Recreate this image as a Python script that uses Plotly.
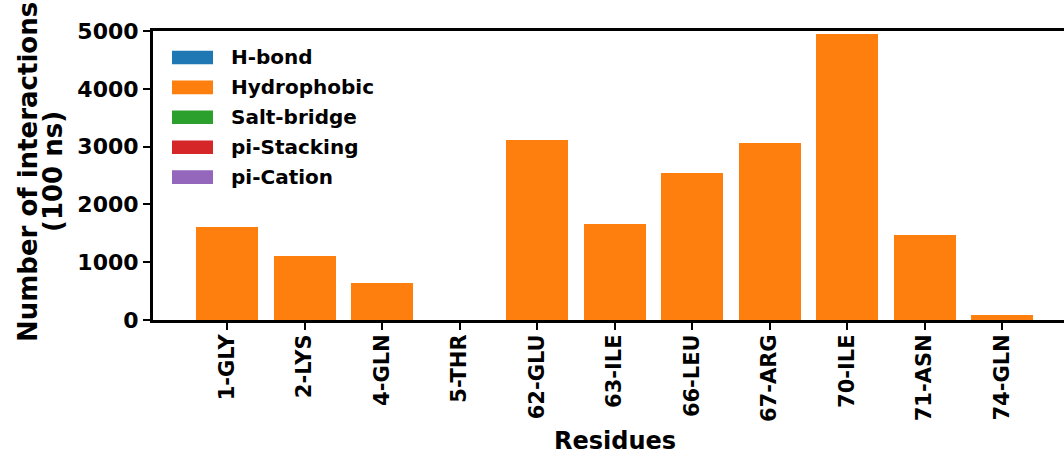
import plotly.graph_objects as go

# Residue-level interaction counts over the 100 ns trajectory
residues = ["1-GLY", "2-LYS", "4-GLN", "5-THR", "62-GLU", "63-ILE",
            "66-LEU", "67-ARG", "70-ILE", "71-ASN", "74-GLN"]
hbond = [0, 0, 0, 0, 0, 0, 0, 0, 0, 0, 0]
hydrophobic = [1610, 1110, 640, 0, 3120, 1660, 2550, 3070, 4940, 1470, 90]
salt_bridge = [0, 0, 0, 0, 0, 0, 0, 0, 0, 0, 0]
pi_stacking = [0, 0, 0, 0, 0, 0, 0, 0, 0, 0, 0]
pi_cation = [0, 0, 0, 0, 0, 0, 0, 0, 0, 0, 0]

series_names = ["H-bond", "Hydrophobic", "Salt-bridge", "pi-Stacking", "pi-Cation"]
series_values = [hbond, hydrophobic, salt_bridge, pi_stacking, pi_cation]
series_colors = ["#1f77b4", "#ff7f0e", "#2ca02c", "#d62728", "#9467bd"]

y_ticks = [0, 1000, 2000, 3000, 4000, 5000]

FONT = "DejaVu Sans"

fig = go.Figure()
for name, vals, col in zip(series_names, series_values, series_colors):
    fig.add_trace(go.Bar(x=residues, y=vals, name=name, marker_color=col,
                         marker_line_width=0, showlegend=False))

# Legend drawn as swatch + label pairs in the upper-left of the axes
W_PLOT, H_PLOT = 911.0, 289.0
for i, (name, col) in enumerate(zip(series_names, series_colors)):
    yc = 57.5 + i * 29.9  # pixel centre from top of figure
    y_paper = (320.0 - yc) / H_PLOT
    half = 6.8 / H_PLOT
    fig.add_shape(type="rect", xref="paper", yref="paper",
                  x0=(172 - 153) / W_PLOT, x1=(213 - 153) / W_PLOT,
                  y0=y_paper - half, y1=y_paper + half,
                  fillcolor=col, line_width=0)
    fig.add_annotation(xref="paper", yref="paper", x=(229 - 153) / W_PLOT,
                       y=y_paper, text=name, showarrow=False,
                       xanchor="left", yanchor="middle",
                       font=dict(family=FONT, size=20, color="black", weight="bold"))

# Axis titles
fig.add_annotation(xref="paper", yref="paper", x=(615 - 153) / W_PLOT,
                   y=(320 - 441) / H_PLOT, text="Residues", showarrow=False,
                   xanchor="center", yanchor="middle", height=26, borderpad=0,
                   font=dict(family=FONT, size=24, color="black", weight="bold"))
fig.add_annotation(xref="paper", yref="paper", x=(28 - 153) / W_PLOT,
                   y=(320 - 172) / H_PLOT, text="Number of interactions",
                   showarrow=False, textangle=-90, xanchor="center", yanchor="middle",
                   font=dict(family=FONT, size=26, color="black", weight="bold"))
fig.add_annotation(xref="paper", yref="paper", x=(53 - 153) / W_PLOT,
                   y=(320 - 172) / H_PLOT, text="(100 ns)",
                   showarrow=False, textangle=-90, xanchor="center", yanchor="middle",
                   font=dict(family=FONT, size=26, color="black", weight="bold"))

fig.update_layout(
    width=1064, height=454,
    margin=dict(l=153, r=0, t=31, b=134),
    barmode="stack", bargap=0.2,
    plot_bgcolor="white", paper_bgcolor="white",
    font=dict(family=FONT, size=20, color="black", weight="bold"),
    showlegend=False,
)
fig.update_xaxes(
    type="category", range=[-0.955, 10.80],
    tickangle=-90, ticks="outside", ticklen=7, tickwidth=2, tickcolor="black",
    ticklabelstandoff=-4,
    showline=True, linecolor="black", linewidth=3, mirror=True,
    showgrid=False, zeroline=False,
    tickfont=dict(family=FONT, size=21, color="black", weight="bold"),
)
fig.update_yaxes(
    range=[0, 5000], tickvals=y_ticks, ticktext=[str(v) for v in y_ticks],
    ticks="outside", ticklen=7, tickwidth=2, tickcolor="black",
    showline=True, linecolor="black", linewidth=3, mirror=False,
    showgrid=False, zeroline=False,
    tickfont=dict(family=FONT, size=22, color="black", weight="bold"),
)

fig.write_html("out.html")
